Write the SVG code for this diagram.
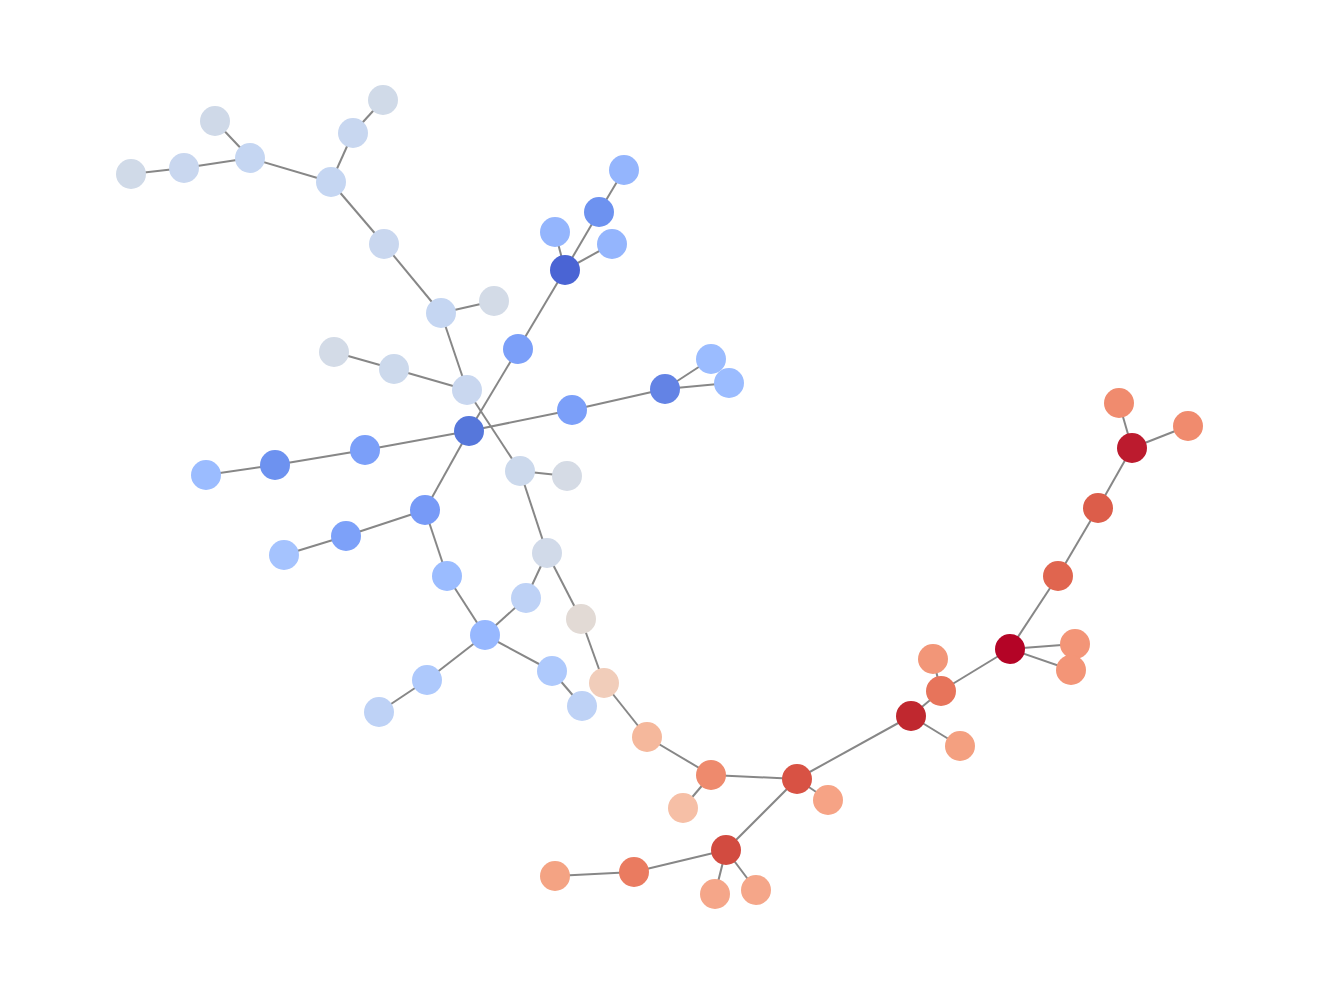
<svg xmlns="http://www.w3.org/2000/svg" width="1320" height="998" viewBox="0 0 1320 998">
<style>
.e{stroke:#878787;stroke-width:2;fill:none}
circle{r:15}
</style>
<rect width="1320" height="998" fill="#fff"/>
<g id="edges" class="e">
<line x1="131" y1="174" x2="184" y2="168"/>
<line x1="184" y1="168" x2="250" y2="158"/>
<line x1="215" y1="121" x2="250" y2="158"/>
<line x1="250" y1="158" x2="331" y2="182"/>
<line x1="331" y1="182" x2="353" y2="133"/>
<line x1="353" y1="133" x2="383" y2="100"/>
<line x1="331" y1="182" x2="384" y2="244"/>
<line x1="384" y1="244" x2="441" y2="313"/>
<line x1="441" y1="313" x2="494" y2="301"/>
<line x1="441" y1="313" x2="467" y2="390"/>
<line x1="334" y1="352" x2="394" y2="369"/>
<line x1="394" y1="369" x2="467" y2="390"/>
<line x1="467" y1="390" x2="520" y2="471"/>
<line x1="520" y1="471" x2="567" y2="476"/>
<line x1="520" y1="471" x2="547" y2="553"/>
<line x1="547" y1="553" x2="581" y2="619"/>
<line x1="581" y1="619" x2="604" y2="683"/>
<line x1="604" y1="683" x2="647" y2="737"/>
<line x1="647" y1="737" x2="711" y2="775"/>
<line x1="711" y1="775" x2="683" y2="808"/>
<line x1="711" y1="775" x2="797" y2="779"/>
<line x1="797" y1="779" x2="828" y2="800"/>
<line x1="797" y1="779" x2="726" y2="850"/>
<line x1="726" y1="850" x2="634" y2="872"/>
<line x1="634" y1="872" x2="555" y2="876"/>
<line x1="726" y1="850" x2="715" y2="894"/>
<line x1="726" y1="850" x2="756" y2="890"/>
<line x1="797" y1="779" x2="911" y2="716"/>
<line x1="911" y1="716" x2="941" y2="691"/>
<line x1="941" y1="691" x2="933" y2="659"/>
<line x1="911" y1="716" x2="960" y2="746"/>
<line x1="941" y1="691" x2="1010" y2="649"/>
<line x1="1010" y1="649" x2="1075" y2="644"/>
<line x1="1010" y1="649" x2="1071" y2="670"/>
<line x1="1010" y1="649" x2="1058" y2="576"/>
<line x1="1058" y1="576" x2="1098" y2="508"/>
<line x1="1098" y1="508" x2="1132" y2="448"/>
<line x1="1132" y1="448" x2="1119" y2="403"/>
<line x1="1132" y1="448" x2="1188" y2="426"/>
<line x1="469" y1="431" x2="518" y2="349"/>
<line x1="518" y1="349" x2="565" y2="270"/>
<line x1="565" y1="270" x2="555" y2="232"/>
<line x1="565" y1="270" x2="599" y2="212"/>
<line x1="599" y1="212" x2="624" y2="170"/>
<line x1="565" y1="270" x2="612" y2="244"/>
<line x1="469" y1="431" x2="572" y2="410"/>
<line x1="572" y1="410" x2="665" y2="389"/>
<line x1="665" y1="389" x2="711" y2="359"/>
<line x1="665" y1="389" x2="729" y2="383"/>
<line x1="469" y1="431" x2="365" y2="450"/>
<line x1="365" y1="450" x2="275" y2="465"/>
<line x1="275" y1="465" x2="206" y2="475"/>
<line x1="469" y1="431" x2="425" y2="510"/>
<line x1="425" y1="510" x2="346" y2="536"/>
<line x1="346" y1="536" x2="284" y2="555"/>
<line x1="425" y1="510" x2="447" y2="576"/>
<line x1="447" y1="576" x2="485" y2="635"/>
<line x1="485" y1="635" x2="526" y2="598"/>
<line x1="526" y1="598" x2="547" y2="553"/>
<line x1="485" y1="635" x2="427" y2="680"/>
<line x1="427" y1="680" x2="379" y2="712"/>
<line x1="485" y1="635" x2="552" y2="671"/>
<line x1="552" y1="671" x2="582" y2="706"/>
</g>
<g id="n_a1"><circle cx="131" cy="174" r="15" fill="#d0dae8"/></g>
<g id="n_a2"><circle cx="184" cy="168" r="15" fill="#c9d7ef"/></g>
<g id="n_a3"><circle cx="215" cy="121" r="15" fill="#cfd9e8"/></g>
<g id="n_a4"><circle cx="250" cy="158" r="15" fill="#c5d6f2"/></g>
<g id="n_a5"><circle cx="331" cy="182" r="15" fill="#c5d6f2"/></g>
<g id="n_a6"><circle cx="353" cy="133" r="15" fill="#c8d7f0"/></g>
<g id="n_a7"><circle cx="383" cy="100" r="15" fill="#d0dae8"/></g>
<g id="n_a8"><circle cx="384" cy="244" r="15" fill="#c9d7ef"/></g>
<g id="n_a9"><circle cx="441" cy="313" r="15" fill="#c5d6f2"/></g>
<g id="n_a10"><circle cx="494" cy="301" r="15" fill="#d3dbe7"/></g>
<g id="n_a11"><circle cx="334" cy="352" r="15" fill="#d3dbe7"/></g>
<g id="n_a12"><circle cx="394" cy="369" r="15" fill="#ccd9ec"/></g>
<g id="n_a13"><circle cx="467" cy="390" r="15" fill="#c9d7ef"/></g>
<g id="n_b0"><circle cx="469" cy="431" r="15" fill="#5677db"/></g>
<g id="n_b1"><circle cx="518" cy="349" r="15" fill="#7b9ff9"/></g>
<g id="n_b2"><circle cx="565" cy="270" r="15" fill="#4a64d4"/></g>
<g id="n_b3"><circle cx="555" cy="232" r="15" fill="#94b5fd"/></g>
<g id="n_b4"><circle cx="599" cy="212" r="15" fill="#6d92f0"/></g>
<g id="n_b5"><circle cx="624" cy="170" r="15" fill="#94b5fd"/></g>
<g id="n_b6"><circle cx="612" cy="244" r="15" fill="#94b5fd"/></g>
<g id="n_b7"><circle cx="572" cy="410" r="15" fill="#7b9ff9"/></g>
<g id="n_b8"><circle cx="665" cy="389" r="15" fill="#6383e5"/></g>
<g id="n_b9"><circle cx="711" cy="359" r="15" fill="#9bbcff"/></g>
<g id="n_b10"><circle cx="729" cy="383" r="15" fill="#9bbcff"/></g>
<g id="n_b11"><circle cx="365" cy="450" r="15" fill="#7b9ff9"/></g>
<g id="n_b12"><circle cx="275" cy="465" r="15" fill="#6d92f0"/></g>
<g id="n_b13"><circle cx="206" cy="475" r="15" fill="#9bbcff"/></g>
<g id="n_b14"><circle cx="425" cy="510" r="15" fill="#779af7"/></g>
<g id="n_b15"><circle cx="346" cy="536" r="15" fill="#7da1f9"/></g>
<g id="n_b16"><circle cx="284" cy="555" r="15" fill="#a5c3fe"/></g>
<g id="n_b17"><circle cx="447" cy="576" r="15" fill="#9bbcff"/></g>
<g id="n_b18"><circle cx="485" cy="635" r="15" fill="#97b8ff"/></g>
<g id="n_b19"><circle cx="526" cy="598" r="15" fill="#bed2f6"/></g>
<g id="n_b20"><circle cx="427" cy="680" r="15" fill="#aec9fc"/></g>
<g id="n_b21"><circle cx="379" cy="712" r="15" fill="#bed2f6"/></g>
<g id="n_b22"><circle cx="552" cy="671" r="15" fill="#aec9fc"/></g>
<g id="n_b23"><circle cx="582" cy="706" r="15" fill="#bed2f6"/></g>
<g id="n_c1"><circle cx="520" cy="471" r="15" fill="#ccd9ec"/></g>
<g id="n_c2"><circle cx="567" cy="476" r="15" fill="#d5dbe5"/></g>
<g id="n_c3"><circle cx="547" cy="553" r="15" fill="#d1dae9"/></g>
<g id="n_c4"><circle cx="581" cy="619" r="15" fill="#e2dad5"/></g>
<g id="n_c5"><circle cx="604" cy="683" r="15" fill="#f1cdba"/></g>
<g id="n_c6"><circle cx="647" cy="737" r="15" fill="#f5b89c"/></g>
<g id="n_c7"><circle cx="711" cy="775" r="15" fill="#ee8a6d"/></g>
<g id="n_c8"><circle cx="683" cy="808" r="15" fill="#f6bfa6"/></g>
<g id="n_c9"><circle cx="797" cy="779" r="15" fill="#d85244"/></g>
<g id="n_c10"><circle cx="828" cy="800" r="15" fill="#f6a385"/></g>
<g id="n_c11"><circle cx="726" cy="850" r="15" fill="#d24b40"/></g>
<g id="n_c12"><circle cx="634" cy="872" r="15" fill="#ea7b60"/></g>
<g id="n_c13"><circle cx="555" cy="876" r="15" fill="#f4a383"/></g>
<g id="n_c14"><circle cx="715" cy="894" r="15" fill="#f5a689"/></g>
<g id="n_c15"><circle cx="756" cy="890" r="15" fill="#f5a689"/></g>
<g id="n_d1"><circle cx="911" cy="716" r="15" fill="#c0282f"/></g>
<g id="n_d3"><circle cx="933" cy="659" r="15" fill="#f29678"/></g>
<g id="n_d2"><circle cx="941" cy="691" r="15" fill="#e7745b"/></g>
<g id="n_d4"><circle cx="960" cy="746" r="15" fill="#f4a080"/></g>
<g id="n_d5"><circle cx="1010" cy="649" r="15" fill="#b40426"/></g>
<g id="n_d6"><circle cx="1075" cy="644" r="15" fill="#f39577"/></g>
<g id="n_d7"><circle cx="1071" cy="670" r="15" fill="#f39577"/></g>
<g id="n_d8"><circle cx="1058" cy="576" r="15" fill="#e0654f"/></g>
<g id="n_d9"><circle cx="1098" cy="508" r="15" fill="#dc5d4a"/></g>
<g id="n_d10"><circle cx="1132" cy="448" r="15" fill="#bc1b2e"/></g>
<g id="n_d11"><circle cx="1119" cy="403" r="15" fill="#f08b6e"/></g>
<g id="n_d12"><circle cx="1188" cy="426" r="15" fill="#f08b6e"/></g>
</svg>
